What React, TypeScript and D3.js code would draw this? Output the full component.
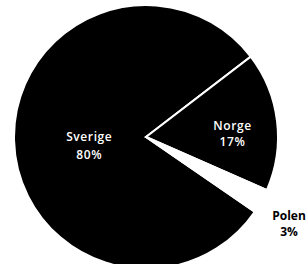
import React from "react";
import { select, pie, arc, PieArcDatum } from "d3";

const categories = ["Sverige", "Norge", "Polen"];
const values = [80, 17, 3];
const labels = ["80%", "17%", "3%"];

const width = 308;
const height = 264;

type Slice = { name: string; value: number; label: string };

export default function App() {
  const svgRef = React.useRef<SVGSVGElement>(null);

  React.useEffect(() => {
    const svg = select(svgRef.current);
    const cx = 146;
    const cy = 137;
    const radius = 132;

    const data: Slice[] = categories.map((c, i) => ({ name: c, value: values[i], label: labels[i] }));
    const start = (124.5 * Math.PI) / 180;

    const pieGen = pie<Slice>()
      .sort(null)
      .value((d) => d.value)
      .startAngle(start)
      .endAngle(start + Math.PI * 2);
    const arcs = pieGen(data);

    const arcGen = arc<PieArcDatum<Slice>>().innerRadius(0).outerRadius(radius);

    const g = svg.append("g").attr("transform", `translate(${cx},${cy})`);

    g.selectAll("path")
      .data(arcs)
      .join("path")
      .attr("d", arcGen)
      .attr("fill", (d) => (d.data.name === "Polen" ? "#ffffff" : "#000000"))
      .attr("stroke", "#ffffff")
      .attr("stroke-width", 2);

    // label distance as fraction of radius (best fit style)
    const labelRadius: Record<string, number> = { Sverige: 0.43, Norge: 0.66, Polen: 1.24 };

    const lab = g
      .selectAll("text")
      .data(arcs)
      .join("text")
      .attr("text-anchor", "middle")
      .attr("font-family", "'Open Sans', sans-serif")
      .attr("font-weight", (d) => (d.data.name === "Polen" ? 700 : 600))
      .attr("font-size", 12)
      .attr("letter-spacing", (d) => (d.data.name === "Polen" ? 0 : 0.6))
      .attr("fill", (d) => (d.data.name === "Polen" ? "#000000" : "#ffffff"))
      .attr("transform", (d) => {
        const a = (d.startAngle + d.endAngle) / 2;
        const r = radius * labelRadius[d.data.name];
        return `translate(${r * Math.sin(a)},${-r * Math.cos(a) + 10})`;
      });

    lab.append("tspan").attr("x", 0).attr("y", -7).text((d) => d.data.name);
    lab.append("tspan").attr("x", 0).attr("y", (d) => (d.data.name === "Sverige" ? 11 : 9)).text((d) => d.data.label);

    return () => {
      svg.selectAll("*").remove();
    };
  }, []);

  return (
    <svg
      ref={svgRef}
      width={width}
      height={height}
      style={{ position: "absolute", left: 0, top: 0, background: "#fff" }}
    />
  );
}
